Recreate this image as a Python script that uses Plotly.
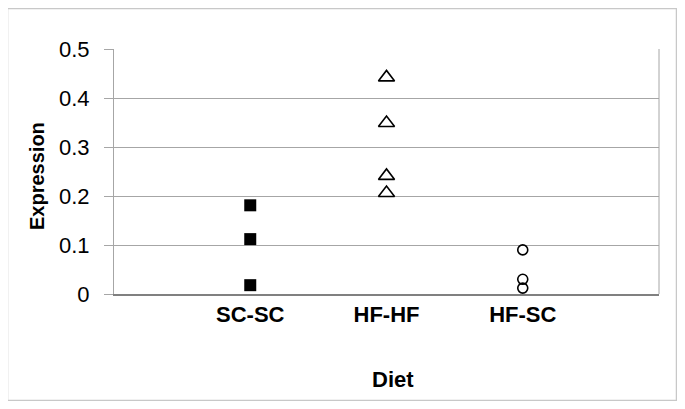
import plotly.graph_objects as go

categories = ["SC-SC", "HF-HF", "HF-SC"]
sc_sc = [0.181, 0.112, 0.018]
hf_hf = [0.442, 0.349, 0.241, 0.206]
hf_sc = [0.090, 0.030, 0.012]
y_ticks = [0, 0.1, 0.2, 0.3, 0.4, 0.5]

# page body has an 8px default margin; work in screen coordinates and offset
OFF = 8
W, H = 685 - 2 * OFF, 409 - 2 * OFF
L, T = 114 - OFF, 49 - OFF
R = 685 - 659 - OFF
B = 409 - 294 - OFF
pw, ph = W - L - R, H - T - B

def px(x):
    return (x - OFF - L) / pw

def py(y):
    return (T + ph - (y - OFF)) / ph

fig = go.Figure()
fig.add_trace(go.Scatter(x=[1] * len(sc_sc), y=sc_sc, mode="markers",
                         marker=dict(symbol="square", size=12, color="black"), showlegend=False))
fig.add_trace(go.Scatter(x=[2] * len(hf_hf), y=hf_hf, mode="markers",
                         marker=dict(symbol="triangle-up-open", size=14, color="black",
                                     line=dict(width=1.6, color="black")), showlegend=False))
fig.add_trace(go.Scatter(x=[3] * len(hf_sc), y=hf_sc, mode="markers",
                         marker=dict(symbol="circle-open", size=10, color="black",
                                     line=dict(width=1.6, color="black")), showlegend=False))

fig.update_layout(
    width=W, height=H,
    margin=dict(l=L, r=R, t=T, b=B),
    paper_bgcolor="white", plot_bgcolor="white",
    font=dict(family="Liberation Sans, Arial, sans-serif", color="black"),
    xaxis=dict(range=[0, 4], tickvals=[1, 2, 3], ticktext=[f"<b>{c}</b>" for c in categories],
               tickfont=dict(size=22), showgrid=False, zeroline=False,
               showline=True, linecolor="#808080", linewidth=2, ticks="",
               fixedrange=True),
    yaxis=dict(range=[0, 0.5], tickvals=y_ticks, ticktext=["0", "0.1", "0.2", "0.3", "0.4", "0.5"],
               tickfont=dict(size=22), showgrid=True, gridcolor="#a6a6a6", gridwidth=1,
               zeroline=False, showline=True, linecolor="#a6a6a6", linewidth=1,
               ticks="outside", ticklen=9, tickcolor="#a6a6a6", ticklabelstandoff=10,
               fixedrange=True),
    shapes=[
        dict(type="line", xref="paper", yref="paper", x0=1, x1=1, y0=0, y1=1,
             line=dict(color="#a6a6a6", width=1)),
        dict(type="rect", xref="paper", yref="paper", x0=px(7.5), x1=px(676.5), y0=py(8.5), y1=py(400.5),
             line=dict(color="#c8c8c8", width=1.5), fillcolor="rgba(0,0,0,0)", layer="below"),
    ],
    annotations=[
        dict(text="<b>Expression</b>", xref="paper", yref="paper", x=px(37), y=py(176),
             showarrow=False, textangle=-90, font=dict(size=20), xanchor="center", yanchor="middle"),
        dict(text="<b>Diet</b>", xref="paper", yref="paper", x=px(393), y=py(379),
             showarrow=False, font=dict(size=22), xanchor="center", yanchor="middle"),
    ],
)

fig.write_html("out.html")
